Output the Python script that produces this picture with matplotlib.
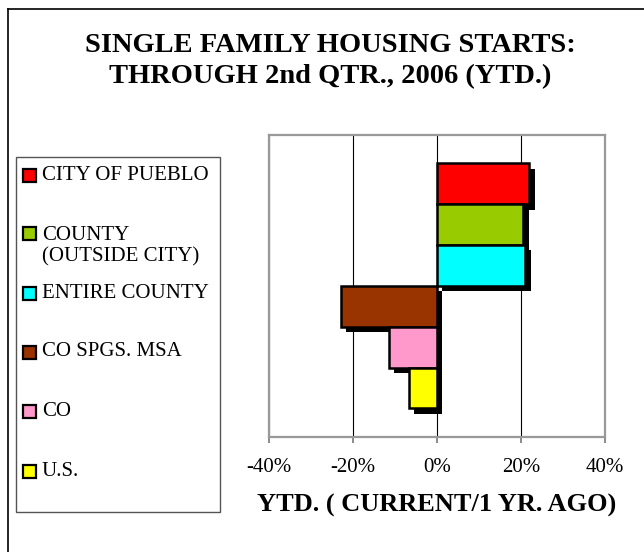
import matplotlib
matplotlib.use("Agg")
import matplotlib.pyplot as plt
import matplotlib.patheffects as pe
from matplotlib.patches import Rectangle
from matplotlib.lines import Line2D

plt.rcParams['font.family'] = ['Liberation Serif', 'DejaVu Serif']

# series, top to bottom
names = ['CITY OF PUEBLO', 'COUNTY\n(OUTSIDE CITY)', 'ENTIRE COUNTY',
         'CO SPGS. MSA', 'CO', 'U.S.']
ytd_change = [22.0, 20.6, 21.0, -22.9, -11.4, -6.7]   # percent
colors = ['#FF0000', '#99CC00', '#00FFFF', '#993300', '#FF99CC', '#FFFF00']
xticks = [-40, -20, 0, 20, 40]

W, H = 644, 552
fig = plt.figure(figsize=(W / 100, H / 100), dpi=100)

def fx(px):
    return px / W

def fy(py):
    return 1 - py / H

# outer chart frame (only top and left show)
fig.add_artist(Line2D([fx(8), 1], [fy(9), fy(9)], color='black', lw=1.2))
fig.add_artist(Line2D([fx(8), fx(8)], [fy(9), 0], color='black', lw=1.2))

fig.text(fx(330), fy(61), 'SINGLE FAMILY HOUSING STARTS:\nTHROUGH 2nd QTR., 2006 (YTD.)',
         ha='center', va='center', fontsize=20.5, fontweight='bold', linespacing=1.35)

ax = fig.add_axes([fx(268.7), fy(437), fx(605) - fx(268.7), fy(134.5) - fy(437)])
pos = list(range(len(names) - 1, -1, -1))
bars = ax.barh(pos, ytd_change, height=1.0, color=colors, edgecolor='black', linewidth=1.8)
for b in bars:
    b.set_path_effects([pe.SimplePatchShadow(offset=(4, -4), shadow_rgbFace='black', alpha=1.0),
                        pe.Normal()])

ax.set_xlim(-40, 40)
ax.set_ylim(-1.2, 6.2)
ax.set_xticks(xticks)
ax.set_xticklabels([f'{t}%' for t in xticks], fontsize=15)
ax.set_yticks([])
ax.set_axisbelow(True)
ax.grid(axis='x', color='black', lw=0.8)
for s in ax.spines.values():
    s.set_color('#999999')
    s.set_linewidth(1.6)
ax.tick_params(axis='x', direction='out', length=4, width=1.2, color='#777777', pad=11)
ax.set_xlabel('YTD. ( CURRENT/1 YR. AGO)', fontsize=19, fontweight='bold', labelpad=12)

# legend box
fig.add_artist(Rectangle((fx(15.5), fy(512)), fx(220) - fx(15.5), fy(157) - fy(512),
                         transform=fig.transFigure, fill=False, edgecolor='#555555', lw=1.0))
legend_y = [175, 246, 293, 352, 411, 471]
for name, c, y in zip(names, colors, legend_y):
    first_line_y = y - 13 if '\n' in name else y
    fig.add_artist(Rectangle((fx(23), fy(first_line_y + 6.5)), fx(13), fy(0) - fy(13),
                             transform=fig.transFigure, facecolor=c, edgecolor='black', lw=1.6))
    fig.text(fx(42), fy(y), name, ha='left', va='center', fontsize=15, linespacing=1.15)

fig.savefig('out.png', dpi=100)
